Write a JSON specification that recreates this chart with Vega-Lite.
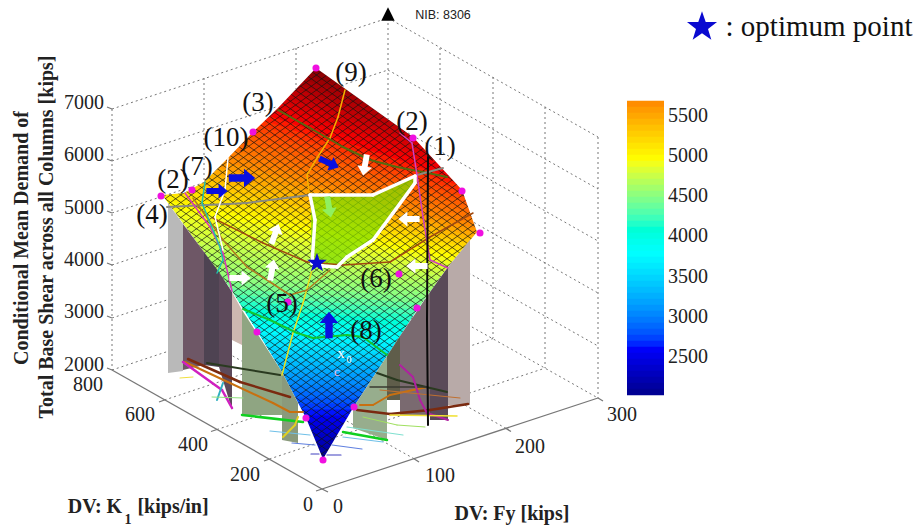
{"$schema":"https://vega.github.io/schema/vega-lite/v6.json","width":919,"height":527,"padding":0,"autosize":{"type":"fit","contains":"padding"},"background":"white","config":{"view":{"stroke":null}},
"data":{"values":[
{"k":"b","z":6725,"sx":158,"sy":11,"ex":482,"ey":121},{"k":"b","z":6700,"sx":158,"sy":17,"ex":482,"ey":127},{"k":"b","z":6645,"sx":158,"sy":23,"ex":482,"ey":133},{"k":"b","z":6592,"sx":158,"sy":29,"ex":482,"ey":139},{"k":"b","z":6540,"sx":158,"sy":35,"ex":482,"ey":145},{"k":"b","z":6486,"sx":158,"sy":41,"ex":482,"ey":151},{"k":"b","z":6433,"sx":158,"sy":47,"ex":482,"ey":157},{"k":"b","z":6380,"sx":158,"sy":53,"ex":482,"ey":163},{"k":"b","z":6327,"sx":158,"sy":59,"ex":482,"ey":169},{"k":"b","z":6273,"sx":158,"sy":65,"ex":482,"ey":175},{"k":"b","z":6220,"sx":158,"sy":71,"ex":482,"ey":181},{"k":"b","z":6167,"sx":158,"sy":77,"ex":482,"ey":187},{"k":"b","z":6114,"sx":158,"sy":83,"ex":482,"ey":193},{"k":"b","z":6061,"sx":158,"sy":90,"ex":482,"ey":198},{"k":"b","z":6008,"sx":158,"sy":97,"ex":482,"ey":203},{"k":"b","z":5955,"sx":158,"sy":104,"ex":482,"ey":208},{"k":"b","z":5902,"sx":158,"sy":112,"ex":482,"ey":212},{"k":"b","z":5850,"sx":158,"sy":120,"ex":482,"ey":216},{"k":"b","z":5797,"sx":158,"sy":127,"ex":482,"ey":221},{"k":"b","z":5744,"sx":158,"sy":134,"ex":482,"ey":226},{"k":"b","z":5686,"sx":158,"sy":141,"ex":482,"ey":231},{"k":"b","z":5598,"sx":158,"sy":149,"ex":482,"ey":235},{"k":"b","z":5510,"sx":158,"sy":157,"ex":482,"ey":239},{"k":"b","z":5423,"sx":158,"sy":165,"ex":482,"ey":243},{"k":"b","z":5335,"sx":158,"sy":173,"ex":482,"ey":247},{"k":"b","z":5247,"sx":158,"sy":181,"ex":482,"ey":251},{"k":"b","z":5160,"sx":158,"sy":189,"ex":482,"ey":255},{"k":"b","z":5072,"sx":158,"sy":197,"ex":482,"ey":259},{"k":"b","z":4985,"sx":158,"sy":204,"ex":482,"ey":264},{"k":"b","z":4929,"sx":158,"sy":211,"ex":482,"ey":269},{"k":"b","z":4880,"sx":158,"sy":219,"ex":482,"ey":273},{"k":"b","z":4830,"sx":158,"sy":227,"ex":482,"ey":277},{"k":"b","z":4780,"sx":158,"sy":235,"ex":482,"ey":281},{"k":"b","z":4730,"sx":158,"sy":243,"ex":482,"ey":285},{"k":"b","z":4680,"sx":158,"sy":251,"ex":482,"ey":289},{"k":"b","z":4632,"sx":158,"sy":259,"ex":482,"ey":293},{"k":"b","z":4582,"sx":158,"sy":267,"ex":482,"ey":297},{"k":"b","z":4533,"sx":158,"sy":274,"ex":482,"ey":302},{"k":"b","z":4467,"sx":158,"sy":281,"ex":482,"ey":307},{"k":"b","z":4370,"sx":158,"sy":287,"ex":482,"ey":313},{"k":"b","z":4272,"sx":158,"sy":293,"ex":482,"ey":319},{"k":"b","z":4174,"sx":158,"sy":299,"ex":482,"ey":325},{"k":"b","z":4076,"sx":158,"sy":305,"ex":482,"ey":331},{"k":"b","z":3980,"sx":158,"sy":311,"ex":482,"ey":337},{"k":"b","z":3882,"sx":158,"sy":317,"ex":482,"ey":343},{"k":"b","z":3785,"sx":158,"sy":323,"ex":482,"ey":349},{"k":"b","z":3695,"sx":158,"sy":330,"ex":482,"ey":354},{"k":"b","z":3605,"sx":158,"sy":338,"ex":482,"ey":358},{"k":"b","z":3515,"sx":158,"sy":346,"ex":482,"ey":362},{"k":"b","z":3425,"sx":158,"sy":354,"ex":482,"ey":366},{"k":"b","z":3335,"sx":158,"sy":362,"ex":482,"ey":370},{"k":"b","z":3245,"sx":158,"sy":370,"ex":482,"ey":374},{"k":"b","z":3157,"sx":158,"sy":378,"ex":482,"ey":378},{"k":"b","z":3072,"sx":158,"sy":384,"ex":482,"ey":384},{"k":"b","z":2987,"sx":158,"sy":390,"ex":482,"ey":390},{"k":"b","z":2900,"sx":158,"sy":396,"ex":482,"ey":396},{"k":"b","z":2815,"sx":158,"sy":402,"ex":482,"ey":402},{"k":"b","z":2730,"sx":158,"sy":408,"ex":482,"ey":408},{"k":"b","z":2645,"sx":158,"sy":414,"ex":482,"ey":414},{"k":"b","z":2570,"sx":158,"sy":420,"ex":482,"ey":420},{"k":"b","z":2490,"sx":158,"sy":426,"ex":482,"ey":426},{"k":"b","z":2412,"sx":158,"sy":432,"ex":482,"ey":432},{"k":"b","z":2335,"sx":158,"sy":438,"ex":482,"ey":438},{"k":"b","z":2257,"sx":158,"sy":444,"ex":482,"ey":444},{"k":"b","z":2180,"sx":158,"sy":450,"ex":482,"ey":450},{"k":"b","z":2100,"sx":158,"sy":456,"ex":482,"ey":456},{"k":"b","z":2045,"sx":158,"sy":462,"ex":482,"ey":462},
{"k":"cb","z":5663,"sx":627,"sy":104,"ex":664,"ey":104},{"k":"cb","z":5588,"sx":627,"sy":110,"ex":664,"ey":110},{"k":"cb","z":5514,"sx":627,"sy":116,"ex":664,"ey":116},{"k":"cb","z":5439,"sx":627,"sy":122,"ex":664,"ey":122},{"k":"cb","z":5364,"sx":627,"sy":128,"ex":664,"ey":128},{"k":"cb","z":5289,"sx":627,"sy":134,"ex":664,"ey":134},{"k":"cb","z":5215,"sx":627,"sy":140,"ex":664,"ey":140},{"k":"cb","z":5140,"sx":627,"sy":146,"ex":664,"ey":146},{"k":"cb","z":5065,"sx":627,"sy":152,"ex":664,"ey":152},{"k":"cb","z":4990,"sx":627,"sy":158,"ex":664,"ey":158},{"k":"cb","z":4916,"sx":627,"sy":164,"ex":664,"ey":164},{"k":"cb","z":4841,"sx":627,"sy":170,"ex":664,"ey":170},{"k":"cb","z":4766,"sx":627,"sy":176,"ex":664,"ey":176},{"k":"cb","z":4691,"sx":627,"sy":182,"ex":664,"ey":182},{"k":"cb","z":4617,"sx":627,"sy":188,"ex":664,"ey":188},{"k":"cb","z":4542,"sx":627,"sy":194,"ex":664,"ey":194},{"k":"cb","z":4467,"sx":627,"sy":200,"ex":664,"ey":200},{"k":"cb","z":4392,"sx":627,"sy":206,"ex":664,"ey":206},{"k":"cb","z":4318,"sx":627,"sy":212,"ex":664,"ey":212},{"k":"cb","z":4243,"sx":627,"sy":218,"ex":664,"ey":218},{"k":"cb","z":4168,"sx":627,"sy":224,"ex":664,"ey":224},{"k":"cb","z":4093,"sx":627,"sy":230,"ex":664,"ey":230},{"k":"cb","z":4019,"sx":627,"sy":236,"ex":664,"ey":236},{"k":"cb","z":3944,"sx":627,"sy":242,"ex":664,"ey":242},{"k":"cb","z":3869,"sx":627,"sy":248,"ex":664,"ey":248},{"k":"cb","z":3794,"sx":627,"sy":254,"ex":664,"ey":254},{"k":"cb","z":3720,"sx":627,"sy":260,"ex":664,"ey":260},{"k":"cb","z":3645,"sx":627,"sy":266,"ex":664,"ey":266},{"k":"cb","z":3570,"sx":627,"sy":272,"ex":664,"ey":272},{"k":"cb","z":3495,"sx":627,"sy":278,"ex":664,"ey":278},{"k":"cb","z":3421,"sx":627,"sy":284,"ex":664,"ey":284},{"k":"cb","z":3346,"sx":627,"sy":290,"ex":664,"ey":290},{"k":"cb","z":3271,"sx":627,"sy":296,"ex":664,"ey":296},{"k":"cb","z":3196,"sx":627,"sy":302,"ex":664,"ey":302},{"k":"cb","z":3122,"sx":627,"sy":308,"ex":664,"ey":308},{"k":"cb","z":3047,"sx":627,"sy":314,"ex":664,"ey":314},{"k":"cb","z":2972,"sx":627,"sy":320,"ex":664,"ey":320},{"k":"cb","z":2897,"sx":627,"sy":326,"ex":664,"ey":326},{"k":"cb","z":2823,"sx":627,"sy":332,"ex":664,"ey":332},{"k":"cb","z":2748,"sx":627,"sy":338,"ex":664,"ey":338},{"k":"cb","z":2673,"sx":627,"sy":344,"ex":664,"ey":344},{"k":"cb","z":2598,"sx":627,"sy":350,"ex":664,"ey":350},{"k":"cb","z":2524,"sx":627,"sy":356,"ex":664,"ey":356},{"k":"cb","z":2449,"sx":627,"sy":362,"ex":664,"ey":362},{"k":"cb","z":2374,"sx":627,"sy":368,"ex":664,"ey":368},{"k":"cb","z":2299,"sx":627,"sy":374,"ex":664,"ey":374},{"k":"cb","z":2225,"sx":627,"sy":380,"ex":664,"ey":380},{"k":"cb","z":2150,"sx":627,"sy":386,"ex":664,"ey":386},{"k":"cb","z":2075,"sx":627,"sy":392,"ex":664,"ey":392},
{"k":"m","sx":160,"sy":-45,"ex":480,"ey":185},{"k":"m","sx":160,"sy":-37.5,"ex":480,"ey":192.5},{"k":"m","sx":160,"sy":-30,"ex":480,"ey":200},{"k":"m","sx":160,"sy":-22.5,"ex":480,"ey":207.5},{"k":"m","sx":160,"sy":-15,"ex":480,"ey":215},{"k":"m","sx":160,"sy":-7.5,"ex":480,"ey":222.5},{"k":"m","sx":160,"sy":0,"ex":480,"ey":230},{"k":"m","sx":160,"sy":7.5,"ex":480,"ey":237.5},{"k":"m","sx":160,"sy":15,"ex":480,"ey":245},{"k":"m","sx":160,"sy":22.5,"ex":480,"ey":252.5},{"k":"m","sx":160,"sy":30,"ex":480,"ey":260},{"k":"m","sx":160,"sy":37.5,"ex":480,"ey":267.5},{"k":"m","sx":160,"sy":45,"ex":480,"ey":275},{"k":"m","sx":160,"sy":52.5,"ex":480,"ey":282.5},{"k":"m","sx":160,"sy":60,"ex":480,"ey":290},{"k":"m","sx":160,"sy":67.5,"ex":480,"ey":297.5},{"k":"m","sx":160,"sy":75,"ex":480,"ey":305},{"k":"m","sx":160,"sy":82.5,"ex":480,"ey":312.5},{"k":"m","sx":160,"sy":90,"ex":480,"ey":320},{"k":"m","sx":160,"sy":97.5,"ex":480,"ey":327.5},{"k":"m","sx":160,"sy":105,"ex":480,"ey":335},{"k":"m","sx":160,"sy":112.5,"ex":480,"ey":342.5},{"k":"m","sx":160,"sy":120,"ex":480,"ey":350},{"k":"m","sx":160,"sy":127.5,"ex":480,"ey":357.5},{"k":"m","sx":160,"sy":135,"ex":480,"ey":365},{"k":"m","sx":160,"sy":142.5,"ex":480,"ey":372.5},{"k":"m","sx":160,"sy":150,"ex":480,"ey":380},{"k":"m","sx":160,"sy":157.5,"ex":480,"ey":387.5},{"k":"m","sx":160,"sy":165,"ex":480,"ey":395},{"k":"m","sx":160,"sy":172.5,"ex":480,"ey":402.5},{"k":"m","sx":160,"sy":180,"ex":480,"ey":410},{"k":"m","sx":160,"sy":187.5,"ex":480,"ey":417.5},{"k":"m","sx":160,"sy":195,"ex":480,"ey":425},{"k":"m","sx":160,"sy":202.5,"ex":480,"ey":432.5},{"k":"m","sx":160,"sy":210,"ex":480,"ey":440},{"k":"m","sx":160,"sy":217.5,"ex":480,"ey":447.5},{"k":"m","sx":160,"sy":225,"ex":480,"ey":455},{"k":"m","sx":160,"sy":232.5,"ex":480,"ey":462.5},{"k":"m","sx":160,"sy":240,"ex":480,"ey":470},{"k":"m","sx":160,"sy":247.5,"ex":480,"ey":477.5},{"k":"m","sx":160,"sy":255,"ex":480,"ey":485},{"k":"m","sx":160,"sy":262.5,"ex":480,"ey":492.5},{"k":"m","sx":160,"sy":270,"ex":480,"ey":500},{"k":"m","sx":160,"sy":277.5,"ex":480,"ey":507.5},{"k":"m","sx":160,"sy":285,"ex":480,"ey":515},{"k":"m","sx":160,"sy":292.5,"ex":480,"ey":522.5},{"k":"m","sx":160,"sy":300,"ex":480,"ey":530},{"k":"m","sx":160,"sy":307.5,"ex":480,"ey":537.5},{"k":"m","sx":160,"sy":315,"ex":480,"ey":545},{"k":"m","sx":160,"sy":322.5,"ex":480,"ey":552.5},{"k":"m","sx":160,"sy":330,"ex":480,"ey":560},{"k":"m","sx":160,"sy":337.5,"ex":480,"ey":567.5},{"k":"m","sx":160,"sy":345,"ex":480,"ey":575},
{"k":"m","sx":160,"sy":180,"ex":480,"ey":-50},{"k":"m","sx":160,"sy":187.5,"ex":480,"ey":-42.5},{"k":"m","sx":160,"sy":195,"ex":480,"ey":-35},{"k":"m","sx":160,"sy":202.5,"ex":480,"ey":-27.5},{"k":"m","sx":160,"sy":210,"ex":480,"ey":-20},{"k":"m","sx":160,"sy":217.5,"ex":480,"ey":-12.5},{"k":"m","sx":160,"sy":225,"ex":480,"ey":-5},{"k":"m","sx":160,"sy":232.5,"ex":480,"ey":2.5},{"k":"m","sx":160,"sy":240,"ex":480,"ey":10},{"k":"m","sx":160,"sy":247.5,"ex":480,"ey":17.5},{"k":"m","sx":160,"sy":255,"ex":480,"ey":25},{"k":"m","sx":160,"sy":262.5,"ex":480,"ey":32.5},{"k":"m","sx":160,"sy":270,"ex":480,"ey":40},{"k":"m","sx":160,"sy":277.5,"ex":480,"ey":47.5},{"k":"m","sx":160,"sy":285,"ex":480,"ey":55},{"k":"m","sx":160,"sy":292.5,"ex":480,"ey":62.5},{"k":"m","sx":160,"sy":300,"ex":480,"ey":70},{"k":"m","sx":160,"sy":307.5,"ex":480,"ey":77.5},{"k":"m","sx":160,"sy":315,"ex":480,"ey":85},{"k":"m","sx":160,"sy":322.5,"ex":480,"ey":92.5},{"k":"m","sx":160,"sy":330,"ex":480,"ey":100},{"k":"m","sx":160,"sy":337.5,"ex":480,"ey":107.5},{"k":"m","sx":160,"sy":345,"ex":480,"ey":115},{"k":"m","sx":160,"sy":352.5,"ex":480,"ey":122.5},{"k":"m","sx":160,"sy":360,"ex":480,"ey":130},{"k":"m","sx":160,"sy":367.5,"ex":480,"ey":137.5},{"k":"m","sx":160,"sy":375,"ex":480,"ey":145},{"k":"m","sx":160,"sy":382.5,"ex":480,"ey":152.5},{"k":"m","sx":160,"sy":390,"ex":480,"ey":160},{"k":"m","sx":160,"sy":397.5,"ex":480,"ey":167.5},{"k":"m","sx":160,"sy":405,"ex":480,"ey":175},{"k":"m","sx":160,"sy":412.5,"ex":480,"ey":182.5},{"k":"m","sx":160,"sy":420,"ex":480,"ey":190},{"k":"m","sx":160,"sy":427.5,"ex":480,"ey":197.5},{"k":"m","sx":160,"sy":435,"ex":480,"ey":205},{"k":"m","sx":160,"sy":442.5,"ex":480,"ey":212.5},{"k":"m","sx":160,"sy":450,"ex":480,"ey":220},{"k":"m","sx":160,"sy":457.5,"ex":480,"ey":227.5},{"k":"m","sx":160,"sy":465,"ex":480,"ey":235},{"k":"m","sx":160,"sy":472.5,"ex":480,"ey":242.5},{"k":"m","sx":160,"sy":480,"ex":480,"ey":250},{"k":"m","sx":160,"sy":487.5,"ex":480,"ey":257.5},{"k":"m","sx":160,"sy":495,"ex":480,"ey":265},{"k":"m","sx":160,"sy":502.5,"ex":480,"ey":272.5},{"k":"m","sx":160,"sy":510,"ex":480,"ey":280},{"k":"m","sx":160,"sy":517.5,"ex":480,"ey":287.5},{"k":"m","sx":160,"sy":525,"ex":480,"ey":295},{"k":"m","sx":160,"sy":532.5,"ex":480,"ey":302.5},{"k":"m","sx":160,"sy":540,"ex":480,"ey":310},{"k":"m","sx":160,"sy":547.5,"ex":480,"ey":317.5},{"k":"m","sx":160,"sy":555,"ex":480,"ey":325},{"k":"m","sx":160,"sy":562.5,"ex":480,"ey":332.5},{"k":"m","sx":160,"sy":570,"ex":480,"ey":340},{"k":"m","sx":160,"sy":577.5,"ex":480,"ey":347.5},
{"k":"mt","sx":156,"sy":196,"ey":0},{"k":"mt","sx":163,"sy":195,"ey":0},{"k":"mt","sx":184,"sy":193,"ey":0},{"k":"mt","sx":204,"sy":182,"ey":0},{"k":"mt","sx":228,"sy":158,"ey":0},{"k":"mt","sx":253,"sy":132,"ey":0},{"k":"mt","sx":278,"sy":108,"ey":0},{"k":"mt","sx":316,"sy":68,"ey":0},{"k":"mt","sx":413,"sy":137,"ey":0},{"k":"mt","sx":462,"sy":190,"ey":0},{"k":"mt","sx":477,"sy":232,"ey":0},{"k":"mt","sx":484,"sy":232,"ey":0},
{"k":"mb","sx":156,"sy":196,"ey":527},{"k":"mb","sx":163,"sy":196,"ey":527},{"k":"mb","sx":204,"sy":252,"ey":527},{"k":"mb","sx":230,"sy":288,"ey":527},{"k":"mb","sx":257,"sy":331,"ey":527},{"k":"mb","sx":282,"sy":372,"ey":527},{"k":"mb","sx":306,"sy":418,"ey":527},{"k":"mb","sx":323,"sy":459,"ey":527},{"k":"mb","sx":353,"sy":408,"ey":527},{"k":"mb","sx":417,"sy":310,"ey":527},{"k":"mb","sx":447,"sy":268,"ey":527},{"k":"mb","sx":477,"sy":232,"ey":527},{"k":"mb","sx":484,"sy":232,"ey":527},
{"k":"g","sx":112,"sy":109,"ex":388,"ey":18},{"k":"g","sx":112,"sy":161,"ex":276,"ey":107},{"k":"g","sx":341,"sy":85.5,"ex":388,"ey":70},{"k":"g","sx":112,"sy":213,"ex":204,"ey":182.6},{"k":"g","sx":112,"sy":265,"ex":194,"ey":238},{"k":"g","sx":112,"sy":318,"ex":225,"ey":281},{"k":"g","sx":112,"sy":370,"ex":250,"ey":324},{"k":"g","sx":388,"sy":18,"ex":598,"ey":137},{"k":"g","sx":388,"sy":70,"ex":598,"ey":189},{"k":"g","sx":408,"sy":133,"ex":598,"ey":241},{"k":"g","sx":474,"sy":222.5,"ex":598,"ey":293},{"k":"g","sx":451,"sy":263,"ex":598,"ey":346},{"k":"g","sx":424,"sy":300,"ex":598,"ey":398},{"k":"g","sx":112,"sy":109,"ex":112,"ey":370},{"k":"g","sx":204,"sy":78,"ex":204,"ey":182},{"k":"g","sx":204,"sy":252,"ex":204,"ey":339},{"k":"g","sx":296,"sy":48,"ex":296,"ey":89},{"k":"g","sx":388,"sy":18,"ex":388,"ey":119},{"k":"g","sx":440,"sy":48,"ex":440,"ey":162},{"k":"g","sx":440,"sy":278,"ex":440,"ey":309},{"k":"g","sx":493,"sy":77,"ex":493,"ey":338},{"k":"g","sx":545,"sy":107,"ex":545,"ey":368},{"k":"g","sx":598,"sy":137,"ex":598,"ey":398},{"k":"g","sx":269.5,"sy":459,"ex":316,"ey":443.5},{"k":"g","sx":336,"sy":437,"ex":545.5,"ey":368},{"k":"g","sx":217,"sy":429.5,"ex":298,"ey":403},{"k":"g","sx":372.5,"sy":378,"ex":493,"ey":338.5},{"k":"g","sx":164.5,"sy":400,"ex":276,"ey":363},{"k":"g","sx":411,"sy":318.5,"ex":440.5,"ey":309},{"k":"g","sx":414,"sy":458.7,"ex":345,"ey":420},{"k":"g","sx":291,"sy":389,"ex":204,"ey":339.7},{"k":"g","sx":506,"sy":428.4,"ex":385,"ey":360},
{"k":"ax","sx":112,"sy":370,"ex":322,"ey":489},{"k":"ax","sx":322,"sy":489,"ex":598,"ey":398},{"k":"ax","sx":107,"sy":368,"ex":112,"ey":370},{"k":"ax","sx":107,"sy":316,"ex":112,"ey":318},{"k":"ax","sx":107,"sy":263,"ex":112,"ey":265},{"k":"ax","sx":107,"sy":211,"ex":112,"ey":213},{"k":"ax","sx":107,"sy":159,"ex":112,"ey":161},{"k":"ax","sx":107,"sy":107,"ex":112,"ey":109},{"k":"ax","sx":269.5,"sy":459,"ex":264,"ey":461},{"k":"ax","sx":217,"sy":429.5,"ex":211,"ey":431.5},{"k":"ax","sx":164.5,"sy":400,"ex":159,"ey":402},{"k":"ax","sx":414,"sy":458.7,"ex":419,"ey":462},{"k":"ax","sx":506,"sy":428.4,"ex":511,"ey":431.5},{"k":"ax","sx":598,"sy":398,"ex":603,"ey":401},{"k":"ax","sx":322,"sy":489,"ex":316,"ey":491},{"k":"ax","sx":322,"sy":489,"ex":328,"ey":492},
{"k":"c1","sx":168,"sy":203,"ey":373},{"k":"c1","sx":183,"sy":224,"ey":371},{"k":"c2","sx":183,"sy":224,"ey":370},{"k":"c2","sx":204,"sy":252,"ey":365},{"k":"c3","sx":204,"sy":252,"ey":365},{"k":"c3","sx":219,"sy":272,"ey":367},{"k":"c4","sx":219,"sy":272,"ey":367},{"k":"c4","sx":232,"sy":292,"ey":410},{"k":"c5","sx":232,"sy":292,"ey":340},{"k":"c5","sx":242,"sy":310,"ey":345},{"k":"c6","sx":242,"sy":310,"ey":415},{"k":"c6","sx":282,"sy":372,"ey":415},{"k":"c7","sx":282,"sy":372,"ey":440},{"k":"c7","sx":298,"sy":403,"ey":443},{"k":"c8","sx":353,"sy":408,"ey":428},{"k":"c8","sx":387,"sy":356,"ey":440},{"k":"c9","sx":387,"sy":356,"ey":400},{"k":"c9","sx":400,"sy":336,"ey":400},{"k":"c10","sx":400,"sy":336,"ey":415},{"k":"c10","sx":430,"sy":292,"ey":415},{"k":"c11","sx":430,"sy":292,"ey":420},{"k":"c11","sx":448,"sy":267,"ey":420},{"k":"c12","sx":448,"sy":267,"ey":405},{"k":"c12","sx":470,"sy":240,"ey":405},
{"k":"fe","sx":311,"sy":195,"ey":262},{"k":"fe","sx":323,"sy":195,"ey":266},{"k":"fe","sx":337,"sy":195,"ey":267},{"k":"fe","sx":347,"sy":195,"ey":257},{"k":"fe","sx":373,"sy":195,"ey":240},{"k":"fe","sx":393,"sy":187,"ey":213},{"k":"fe","sx":415,"sy":177,"ey":183},
{"k":"s","c":"#7a2a10","w":2.5,"sx":188,"sy":359,"ex":240,"ey":382},{"k":"s","c":"#7a2a10","w":2.5,"sx":240,"sy":382,"ex":290,"ey":397},{"k":"s","c":"#7a2a10","w":2.5,"sx":357,"sy":410,"ex":390,"ey":414},{"k":"s","c":"#7a2a10","w":2.5,"sx":390,"sy":414,"ex":430,"ey":410},{"k":"s","c":"#7a2a10","w":2.5,"sx":430,"sy":410,"ex":468,"ey":404},
{"k":"s","c":"#c87010","w":2,"sx":185,"sy":362,"ex":230,"ey":383},{"k":"s","c":"#c87010","w":2,"sx":230,"sy":383,"ex":273,"ey":403},{"k":"s","c":"#c87010","w":2,"sx":273,"sy":403,"ex":290,"ey":412},{"k":"s","c":"#c87010","w":2,"sx":290,"sy":412,"ex":303,"ey":412},{"k":"s","c":"#c87010","w":2,"sx":360,"sy":405,"ex":373,"ey":405},{"k":"s","c":"#c87010","w":2,"sx":373,"sy":405,"ex":390,"ey":395},{"k":"s","c":"#c87010","w":2,"sx":390,"sy":395,"ex":427,"ey":387},
{"k":"s","c":"#2a3a20","w":2,"sx":207,"sy":363,"ex":280,"ey":375},{"k":"s","c":"#2a3a20","w":2,"sx":377,"sy":373,"ex":397,"ey":380},{"k":"s","c":"#2a3a20","w":2,"sx":397,"sy":380,"ex":447,"ey":392},{"k":"s","c":"#3a3a30","w":1.5,"sx":370,"sy":387,"ex":427,"ey":387},
{"k":"s","c":"#10d020","w":2.5,"sx":242,"sy":415,"ex":303,"ey":422},{"k":"s","c":"#10d020","w":2.5,"sx":343,"sy":432,"ex":387,"ey":440},{"k":"s","c":"#70c0e8","w":1.2,"sx":270,"sy":431,"ex":310,"ey":435},{"k":"s","c":"#70c0e8","w":1.2,"sx":343,"sy":437,"ex":383,"ey":442},{"k":"s","c":"#80e0d0","w":1.2,"sx":347,"sy":427,"ex":403,"ey":435},{"k":"s","c":"#6080e0","w":1.2,"sx":292,"sy":443,"ex":315,"ey":445},{"k":"s","c":"#6080e0","w":1.2,"sx":332,"sy":445,"ex":362,"ey":449},{"k":"s","c":"#4040c0","w":1.2,"sx":311,"sy":454,"ex":319,"ey":454},{"k":"s","c":"#4040c0","w":1.2,"sx":327,"sy":455,"ex":341,"ey":455},
{"k":"s","c":"#d020c0","w":2.5,"sx":183,"sy":362,"ex":222,"ey":390},{"k":"s","c":"#d020c0","w":2.5,"sx":222,"sy":390,"ex":232,"ey":408},{"k":"s","c":"#30b0c0","w":2,"sx":223,"sy":383,"ex":217,"ey":400},{"k":"s","c":"#f0e040","w":1,"sx":180,"sy":378,"ex":193,"ey":377},{"k":"s","c":"#e0d020","w":2,"sx":283,"sy":437,"ex":295,"ey":425},{"k":"s","c":"#e0d020","w":2,"sx":295,"sy":425,"ex":298,"ey":417},{"k":"s","c":"#90e080","w":1,"sx":212,"sy":397,"ex":243,"ey":398},{"k":"s","c":"#a0e060","w":1,"sx":363,"sy":417,"ex":397,"ey":425},{"k":"s","c":"#a0e060","w":1,"sx":397,"sy":425,"ex":425,"ey":427},
{"k":"s","c":"#b020a0","w":2,"sx":400,"sy":365,"ex":413,"ey":377},{"k":"s","c":"#b020a0","w":2,"sx":413,"sy":377,"ex":420,"ey":400},{"k":"s","c":"#b020a0","w":2,"sx":420,"sy":400,"ex":427,"ey":413},{"k":"s","c":"#b020a0","w":2,"sx":427,"sy":413,"ex":448,"ey":420},{"k":"s","c":"#f0e030","w":1.5,"sx":390,"sy":415,"ex":457,"ey":416},{"k":"s","c":"#c07030","w":1,"sx":380,"sy":390,"ex":460,"ey":398},
{"k":"s","c":"#f5b000","w":1.5,"sx":345,"sy":90,"ex":338,"ey":117},{"k":"s","c":"#f5b000","w":1.5,"sx":338,"sy":117,"ex":330,"ey":138},{"k":"s","c":"#f5b000","w":1.5,"sx":330,"sy":138,"ex":317,"ey":158},{"k":"s","c":"#f5b000","w":1.5,"sx":317,"sy":158,"ex":307,"ey":175},{"k":"s","c":"#f5b000","w":1.5,"sx":307,"sy":175,"ex":309,"ey":193},{"k":"s","c":"#e8e020","w":1.5,"sx":312,"sy":270,"ex":303,"ey":303},{"k":"s","c":"#e8e020","w":1.5,"sx":303,"sy":303,"ex":293,"ey":333},{"k":"s","c":"#e8e020","w":1.5,"sx":293,"sy":333,"ex":282,"ey":375},
{"k":"s","c":"#556b10","w":2,"sx":278,"sy":110,"ex":310,"ey":128},{"k":"s","c":"#556b10","w":2,"sx":310,"sy":128,"ex":343,"ey":147},{"k":"s","c":"#556b10","w":2,"sx":343,"sy":147,"ex":370,"ey":160},{"k":"s","c":"#556b10","w":2,"sx":370,"sy":160,"ex":397,"ey":167},{"k":"s","c":"#556b10","w":2,"sx":397,"sy":167,"ex":423,"ey":172},{"k":"s","c":"#556b10","w":2,"sx":423,"sy":172,"ex":447,"ey":177},
{"k":"s","c":"#8a8a80","w":2,"sx":167,"sy":207,"ex":247,"ey":203},{"k":"s","c":"#8a8a80","w":2,"sx":247,"sy":203,"ex":310,"ey":195},{"k":"s","c":"#8a8a80","w":2,"sx":417,"sy":175,"ex":443,"ey":168},
{"k":"s","c":"#a04a10","w":1.5,"sx":213,"sy":218,"ex":263,"ey":243},{"k":"s","c":"#a04a10","w":1.5,"sx":263,"sy":243,"ex":307,"ey":262},{"k":"s","c":"#a04a10","w":1.5,"sx":307,"sy":262,"ex":343,"ey":265},{"k":"s","c":"#a04a10","w":1.5,"sx":343,"sy":265,"ex":390,"ey":262},{"k":"s","c":"#a04a10","w":1.5,"sx":390,"sy":262,"ex":430,"ey":237},{"k":"s","c":"#a04a10","w":1.5,"sx":430,"sy":237,"ex":473,"ey":213},
{"k":"s","c":"#b07a20","w":1.5,"sx":193,"sy":198,"ex":223,"ey":240},{"k":"s","c":"#b07a20","w":1.5,"sx":223,"sy":240,"ex":247,"ey":267},{"k":"s","c":"#b07a20","w":1.5,"sx":247,"sy":267,"ex":270,"ey":282},{"k":"s","c":"#b07a20","w":1.5,"sx":270,"sy":282,"ex":290,"ey":295},{"k":"s","c":"#b07a20","w":1.5,"sx":290,"sy":295,"ex":307,"ey":290},{"k":"s","c":"#b07a20","w":1.5,"sx":307,"sy":290,"ex":330,"ey":270},
{"k":"s","c":"#d040c0","w":1.5,"sx":400,"sy":133,"ex":412,"ey":143},{"k":"s","c":"#d040c0","w":1.5,"sx":412,"sy":143,"ex":417,"ey":175},{"k":"s","c":"#d040c0","w":1.5,"sx":417,"sy":175,"ex":423,"ey":217},{"k":"s","c":"#d040c0","w":1.5,"sx":423,"sy":217,"ex":430,"ey":260},{"k":"s","c":"#d040c0","w":1.5,"sx":430,"sy":260,"ex":448,"ey":268},
{"k":"s","c":"#0a0a0a","w":2,"sx":428,"sy":157,"ex":427,"ey":320},{"k":"s","c":"#0a0a0a","w":2,"sx":427,"sy":320,"ex":428,"ey":425},
{"k":"s","c":"#d838b8","w":1.5,"sx":185,"sy":193,"ex":210,"ey":227},{"k":"s","c":"#d838b8","w":1.5,"sx":210,"sy":227,"ex":223,"ey":253},{"k":"s","c":"#d838b8","w":1.5,"sx":223,"sy":253,"ex":232,"ey":291},
{"k":"s","c":"#20c0b0","w":1.5,"sx":205,"sy":182,"ex":202,"ey":203},{"k":"s","c":"#20c0b0","w":1.5,"sx":202,"sy":203,"ex":220,"ey":247},{"k":"s","c":"#20c0b0","w":1.5,"sx":220,"sy":247,"ex":223,"ey":260},{"k":"s","c":"#20c0b0","w":1.5,"sx":223,"sy":260,"ex":217,"ey":273},
{"k":"s","c":"#ffffff","w":1.5,"sx":228,"sy":158,"ex":225,"ey":190},{"k":"s","c":"#ffffff","w":1.5,"sx":225,"sy":190,"ex":215,"ey":217},{"k":"s","c":"#ffffff","w":1.5,"sx":215,"sy":217,"ex":223,"ey":250},
{"k":"s","c":"#10c830","w":2,"sx":243,"sy":309,"ex":270,"ey":320},{"k":"s","c":"#10c830","w":2,"sx":270,"sy":320,"ex":297,"ey":333},{"k":"s","c":"#10c830","w":2,"sx":297,"sy":333,"ex":313,"ey":338},{"k":"s","c":"#10c830","w":2,"sx":313,"sy":338,"ex":347,"ey":335},{"k":"s","c":"#10c830","w":2,"sx":347,"sy":335,"ex":363,"ey":337},{"k":"s","c":"#10c830","w":2,"sx":363,"sy":337,"ex":387,"ey":355},
{"k":"s","c":"#ffffff","w":3.5,"sx":310,"sy":195,"ex":373,"ey":195},{"k":"s","c":"#ffffff","w":3.5,"sx":373,"sy":195,"ex":415,"ey":176},{"k":"s","c":"#ffffff","w":3.5,"sx":415,"sy":176,"ex":415,"ey":183},{"k":"s","c":"#ffffff","w":3.5,"sx":415,"sy":183,"ex":393,"ey":213},{"k":"s","c":"#ffffff","w":3.5,"sx":393,"sy":213,"ex":373,"ey":240},{"k":"s","c":"#ffffff","w":3.5,"sx":373,"sy":240,"ex":347,"ey":257},{"k":"s","c":"#ffffff","w":3.5,"sx":347,"sy":257,"ex":337,"ey":267},{"k":"s","c":"#ffffff","w":3.5,"sx":337,"sy":267,"ex":323,"ey":266},{"k":"s","c":"#ffffff","w":3.5,"sx":323,"sy":266,"ex":312,"ey":263},{"k":"s","c":"#ffffff","w":3.5,"sx":312,"sy":263,"ex":315,"ey":220},{"k":"s","c":"#ffffff","w":3.5,"sx":315,"sy":220,"ex":310,"ey":195},
{"k":"d","sx":316,"sy":68},{"k":"d","sx":253,"sy":132},{"k":"d","sx":161,"sy":196},{"k":"d","sx":192,"sy":190},{"k":"d","sx":413,"sy":138},{"k":"d","sx":462,"sy":191},{"k":"d","sx":480,"sy":233},{"k":"d","sx":399,"sy":274},{"k":"d","sx":417,"sy":308},{"k":"d","sx":257,"sy":332},{"k":"d","sx":288,"sy":302},{"k":"d","sx":306,"sy":418},{"k":"d","sx":354,"sy":407},{"k":"d","sx":323,"sy":460},
{"k":"ar","c":"#0a10e0","sx":242,"sy":178,"deg":0,"len":700},{"k":"ar","c":"#0a10e0","sx":217,"sy":191,"deg":0,"len":450},{"k":"ar","c":"#0a10e0","sx":329,"sy":163,"deg":25,"len":450},{"k":"ar","c":"#0a10e0","sx":329,"sy":325,"deg":270,"len":700},{"k":"ar","c":"#ffffff","sx":365,"sy":165,"deg":100,"len":450},{"k":"ar","c":"#ffffff","sx":409,"sy":219,"deg":180,"len":450},{"k":"ar","c":"#ffffff","sx":417,"sy":266,"deg":180,"len":450},{"k":"ar","c":"#ffffff","sx":275,"sy":234,"deg":290,"len":450},{"k":"ar","c":"#ffffff","sx":272,"sy":270,"deg":280,"len":450},{"k":"ar","c":"#ffffff","sx":240,"sy":278,"deg":0,"len":450},{"k":"ar","c":"#90f060","sx":329,"sy":207,"deg":80,"len":450},
{"k":"st","sx":317,"sy":263,"sz":420},{"k":"st","sx":702,"sy":27,"sz":1000},
{"k":"tr","sx":388,"sy":14},
{"k":"t","t":"(9)","sx":351,"sy":73,"fs":27,"c":"#111"},{"k":"t","t":"(3)","sx":258,"sy":103,"fs":27,"c":"#111"},{"k":"t","t":"(10)","sx":226,"sy":138,"fs":27,"c":"#111"},{"k":"t","t":"(7)","sx":197,"sy":167,"fs":27,"c":"#111"},{"k":"t","t":"(2)","sx":173,"sy":180,"fs":27,"c":"#111"},{"k":"t","t":"(4)","sx":152,"sy":215,"fs":27,"c":"#111"},{"k":"t","t":"(2)","sx":412,"sy":122,"fs":27,"c":"#111"},{"k":"t","t":"(1)","sx":440,"sy":147,"fs":27,"c":"#111"},{"k":"t","t":"(6)","sx":376,"sy":279,"fs":27,"c":"#111"},{"k":"t","t":"(5)","sx":282,"sy":304,"fs":27,"c":"#111"},{"k":"t","t":"(8)","sx":366,"sy":331,"fs":27,"c":"#111"},{"k":"t","t":"x","sx":341,"sy":353,"fs":15,"c":"#fff"},{"k":"t","t":"0","sx":349,"sy":360,"fs":10,"c":"#fff"},{"k":"t","t":"c","sx":337,"sy":372,"fs":13,"c":"#f8c0f0"},
{"k":"t","t":"7000","sx":84,"sy":103,"fs":20,"c":"#222"},{"k":"t","t":"6000","sx":84,"sy":155,"fs":20,"c":"#222"},{"k":"t","t":"5000","sx":84,"sy":208,"fs":20,"c":"#222"},{"k":"t","t":"4000","sx":84,"sy":260,"fs":20,"c":"#222"},{"k":"t","t":"3000","sx":84,"sy":312,"fs":20,"c":"#222"},{"k":"t","t":"2000","sx":84,"sy":365,"fs":20,"c":"#222"},{"k":"t","t":"800","sx":88,"sy":385,"fs":20,"c":"#222"},{"k":"t","t":"600","sx":140,"sy":415,"fs":20,"c":"#222"},{"k":"t","t":"400","sx":193,"sy":445,"fs":20,"c":"#222"},{"k":"t","t":"200","sx":245,"sy":475,"fs":20,"c":"#222"},{"k":"t","t":"0","sx":308,"sy":505,"fs":20,"c":"#222"},{"k":"t","t":"0","sx":338,"sy":507,"fs":20,"c":"#222"},{"k":"t","t":"100","sx":440,"sy":476,"fs":20,"c":"#222"},{"k":"t","t":"200","sx":530,"sy":447,"fs":20,"c":"#222"},{"k":"t","t":"300","sx":622,"sy":415,"fs":20,"c":"#222"},{"k":"t","t":": optimum point","sx":819,"sy":27,"fs":29,"c":"#111"},
{"k":"t","t":"5500","sx":688,"sy":116,"fs":20,"c":"#222"},{"k":"t","t":"5000","sx":688,"sy":156,"fs":20,"c":"#222"},{"k":"t","t":"4500","sx":688,"sy":196,"fs":20,"c":"#222"},{"k":"t","t":"4000","sx":688,"sy":236,"fs":20,"c":"#222"},{"k":"t","t":"3500","sx":688,"sy":277,"fs":20,"c":"#222"},{"k":"t","t":"3000","sx":688,"sy":317,"fs":20,"c":"#222"},{"k":"t","t":"2500","sx":688,"sy":357,"fs":20,"c":"#222"},
{"k":"tb","t":"Conditional Mean Demand of","sx":22,"sy":238,"fs":20,"a":270},{"k":"tb","t":"Total Base Shear across all Columns [kips]","sx":47,"sy":237,"fs":20,"a":270},{"k":"tb","t":"DV: K","sx":95,"sy":507,"fs":20,"a":0},{"k":"tb","t":"1","sx":128,"sy":520,"fs":14,"a":0},{"k":"tb","t":"[kips/in]","sx":173,"sy":507,"fs":20,"a":0},{"k":"tb","t":"DV: Fy [kips]","sx":512,"sy":514,"fs":20,"a":0},
{"k":"ts","t":"NIB: 8306","sx":443,"sy":15}
]},
"encoding":{"x":{"field":"sx","type":"quantitative","scale":{"domain":[0,919],"nice":false,"zero":false},"axis":null},"y":{"field":"sy","type":"quantitative","scale":{"domain":[527,0],"nice":false,"zero":false},"axis":null}},
"layer":[
{"transform":[{"filter":"datum.k==='b'"}],"mark":{"type":"rule","strokeWidth":9,"clip":true},"encoding":{"x2":{"field":"ex"},"y2":{"field":"ey"},"color":{"field":"z","type":"quantitative","legend":null,"scale":{"domain":[2045,2630,3800,4970,6140,6725],"range":["#00008f","#0000ff","#00ffff","#ffff00","#ff0000","#800000"]}}}},
{"transform":[{"filter":"datum.k==='m'"}],"mark":{"type":"rule","strokeWidth":0.8,"color":"#141414","opacity":0.85,"clip":true},"encoding":{"x2":{"field":"ex"},"y2":{"field":"ey"}}},
{"transform":[{"filter":"datum.k==='mt'"}],"mark":{"type":"area","color":"white"},"encoding":{"y2":{"field":"ey"}}},
{"transform":[{"filter":"datum.k==='mb'"}],"mark":{"type":"area","color":"white"},"encoding":{"y2":{"field":"ey"}}},
{"transform":[{"filter":"datum.k==='g'"}],"mark":{"type":"rule","strokeWidth":1,"color":"#777","strokeDash":[2,3]},"encoding":{"x2":{"field":"ex"},"y2":{"field":"ey"}}},
{"transform":[{"filter":"datum.k==='ax'"}],"mark":{"type":"rule","strokeWidth":1.3,"color":"#777"},"encoding":{"x2":{"field":"ex"},"y2":{"field":"ey"}}},
{"transform":[{"filter":"datum.k==='c1'"}],"mark":{"type":"area","color":"#b9b9b9"},"encoding":{"y2":{"field":"ey"}}},
{"transform":[{"filter":"datum.k==='c2'"}],"mark":{"type":"area","color":"#6e5766"},"encoding":{"y2":{"field":"ey"}}},
{"transform":[{"filter":"datum.k==='c3'"}],"mark":{"type":"area","color":"#4e4352"},"encoding":{"y2":{"field":"ey"}}},
{"transform":[{"filter":"datum.k==='c4'"}],"mark":{"type":"area","color":"#5d4a5b"},"encoding":{"y2":{"field":"ey"}}},
{"transform":[{"filter":"datum.k==='c5'"}],"mark":{"type":"area","color":"#cdb8b0"},"encoding":{"y2":{"field":"ey"}}},
{"transform":[{"filter":"datum.k==='c6'"}],"mark":{"type":"area","color":"#8fa582"},"encoding":{"y2":{"field":"ey"}}},
{"transform":[{"filter":"datum.k==='c7'"}],"mark":{"type":"area","color":"#8a9a7c"},"encoding":{"y2":{"field":"ey"}}},
{"transform":[{"filter":"datum.k==='c8'"}],"mark":{"type":"area","color":"#97ad8d"},"encoding":{"y2":{"field":"ey"}}},
{"transform":[{"filter":"datum.k==='c9'"}],"mark":{"type":"area","color":"#5f5d4a"},"encoding":{"y2":{"field":"ey"}}},
{"transform":[{"filter":"datum.k==='c10'"}],"mark":{"type":"area","color":"#7a6a70"},"encoding":{"y2":{"field":"ey"}}},
{"transform":[{"filter":"datum.k==='c11'"}],"mark":{"type":"area","color":"#5a4a58"},"encoding":{"y2":{"field":"ey"}}},
{"transform":[{"filter":"datum.k==='c12'"}],"mark":{"type":"area","color":"#b8aaa8"},"encoding":{"y2":{"field":"ey"}}},
{"transform":[{"filter":"datum.k==='fe'"}],"mark":{"type":"area","color":"#84dc00","opacity":0.75},"encoding":{"y2":{"field":"ey"}}},
{"transform":[{"filter":"datum.k==='s'"}],"mark":{"type":"rule","strokeCap":"round"},"encoding":{"x2":{"field":"ex"},"y2":{"field":"ey"},"color":{"field":"c","type":"nominal","scale":null},"strokeWidth":{"field":"w","type":"quantitative","scale":null}}},
{"transform":[{"filter":"datum.k==='cb'"}],"mark":{"type":"rule","strokeWidth":6.6},"encoding":{"x2":{"field":"ex"},"y2":{"field":"ey"},"color":{"field":"z","type":"quantitative","legend":null,"scale":{"domain":[2045,2630,3800,4970,6140,6725],"range":["#00008f","#0000ff","#00ffff","#ffff00","#ff0000","#800000"]}}}},
{"transform":[{"filter":"datum.k==='d'"}],"mark":{"type":"point","filled":true,"color":"#f010e0","opacity":1,"size":50}},
{"transform":[{"filter":"datum.k==='ar'"}],"mark":{"type":"point","filled":true,"opacity":1,"shape":"M-1,-0.28L0.15,-0.28L0.15,-0.7L1,0L0.15,0.7L0.15,0.28L-1,0.28Z"},"encoding":{"color":{"field":"c","type":"nominal","scale":null},"angle":{"field":"deg","type":"quantitative","scale":null},"size":{"field":"len","type":"quantitative","scale":null}}},
{"transform":[{"filter":"datum.k==='st'"}],"mark":{"type":"point","filled":true,"color":"#0a0ad0","opacity":1,"shape":"M0,-1L0.235,-0.32L0.95,-0.31L0.38,0.12L0.59,0.81L0,0.4L-0.59,0.81L-0.38,0.12L-0.95,-0.31L-0.235,-0.32Z"},"encoding":{"size":{"field":"sz","type":"quantitative","scale":null}}},
{"transform":[{"filter":"datum.k==='tr'"}],"mark":{"type":"point","filled":true,"color":"black","opacity":1,"size":180,"shape":"M0,-1L1,1L-1,1Z"}},
{"transform":[{"filter":"datum.k==='t'"}],"mark":{"type":"text","font":"Liberation Serif","align":"center","baseline":"middle"},"encoding":{"text":{"field":"t","type":"nominal"},"size":{"field":"fs","type":"quantitative","scale":null},"color":{"field":"c","type":"nominal","scale":null}}},
{"transform":[{"filter":"datum.k==='tb'"}],"mark":{"type":"text","font":"Liberation Serif","fontWeight":"bold","align":"center","baseline":"middle","color":"#222"},"encoding":{"text":{"field":"t","type":"nominal"},"size":{"field":"fs","type":"quantitative","scale":null},"angle":{"field":"a","type":"quantitative","scale":null}}},
{"transform":[{"filter":"datum.k==='ts'"}],"mark":{"type":"text","font":"Liberation Sans","fontSize":12.5,"align":"center","baseline":"middle","color":"#222"},"encoding":{"text":{"field":"t","type":"nominal"}}}
]}
